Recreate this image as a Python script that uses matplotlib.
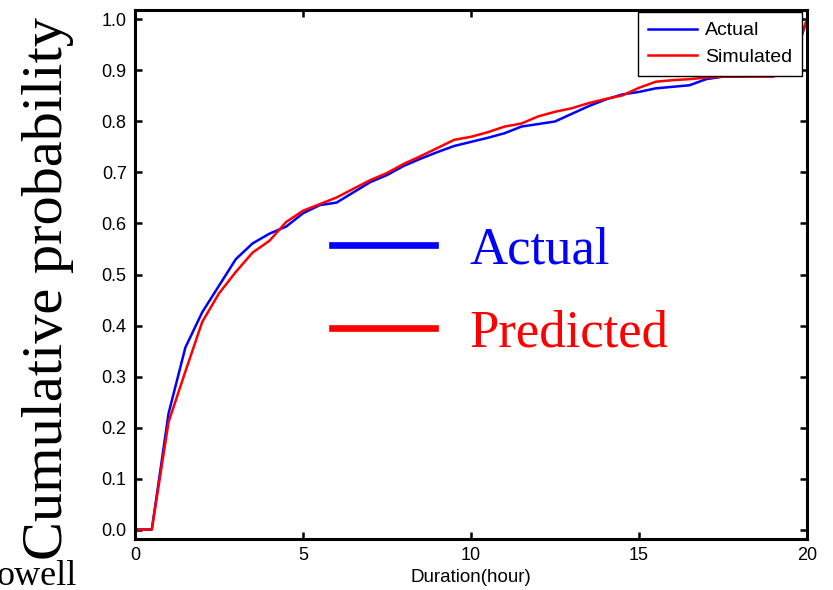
import matplotlib
matplotlib.use("Agg")
import matplotlib.pyplot as plt
from matplotlib.lines import Line2D

# Duration grid (hours) and the two cumulative distributions
duration = [0.0, 0.5, 1.0, 1.5, 2.0, 2.5, 3.0, 3.5, 4.0, 4.5, 5.0, 5.5, 6.0, 6.5,
            7.0, 7.5, 8.0, 8.5, 9.0, 9.5, 10.0, 10.5, 11.0, 11.5, 12.0, 12.5,
            13.0, 13.5, 14.0, 14.5, 15.0, 15.5, 16.0, 16.5, 17.0, 17.5, 18.0,
            18.5, 19.0, 19.5, 20.0]

actual = [0.0, 0.0, 0.228, 0.357, 0.426, 0.478, 0.530, 0.561, 0.580, 0.594,
          0.620, 0.636, 0.641, 0.661, 0.681, 0.695, 0.713, 0.727, 0.740, 0.752,
          0.760, 0.768, 0.777, 0.790, 0.795, 0.800, 0.815, 0.830, 0.843, 0.853,
          0.858, 0.865, 0.868, 0.871, 0.883, 0.888, 0.888, 0.890, 0.893, 0.900,
          1.0]

simulated = [0.0, 0.0, 0.211, 0.310, 0.407, 0.463, 0.505, 0.543, 0.566, 0.603,
             0.625, 0.638, 0.651, 0.668, 0.685, 0.699, 0.717, 0.732, 0.748, 0.764,
             0.770, 0.779, 0.790, 0.796, 0.810, 0.819, 0.826, 0.836, 0.844, 0.851,
             0.866, 0.878, 0.881, 0.883, 0.886, 0.888, 0.888, 0.888, 0.888, 0.905,
             1.0]

x_ticks = [0, 5, 10, 15, 20]
y_ticks = [0.0, 0.1, 0.2, 0.3, 0.4, 0.5, 0.6, 0.7, 0.8, 0.9, 1.0]

SANS = "Liberation Sans"
SERIF = "Liberation Serif"

fig = plt.figure(figsize=(8.33, 5.90), dpi=100)
ax = fig.add_axes([135 / 833, 51 / 590, 672 / 833, 529 / 590])

ax.plot(duration, actual, color="#0000ff", lw=1.8, label="Actual")
ax.plot(duration, simulated, color="#ff0000", lw=1.8, label="Simulated")

ax.set_xlim(0, 20)
ax.set_ylim(-0.0186, 1.0186)
ax.set_xticks(x_ticks)
ax.set_xticklabels([str(t) for t in x_ticks])
ax.set_yticks(y_ticks)
ax.set_yticklabels([f"{t:.1f}" for t in y_ticks])

for s in ax.spines.values():
    s.set_linewidth(2.2)
ax.tick_params(direction="in", length=5, width=1.8, top=True, right=True,
               labelsize=13, pad=6)
for lab in ax.get_xticklabels() + ax.get_yticklabels():
    lab.set_fontfamily(SANS)

ax.set_xlabel("Duration(hour)", fontsize=13.5, fontfamily=SANS, labelpad=3)

# Series legend in the top-right corner
leg = ax.legend(loc="upper right", bbox_to_anchor=(802 / 833, 578 / 590),
                bbox_transform=fig.transFigure, borderaxespad=0,
                prop={"family": SANS, "size": 14},
                fancybox=False, framealpha=1, edgecolor="black",
                borderpad=0.5, labelspacing=0.48,
                handlelength=2.55, handletextpad=0.4)
leg.get_frame().set_linewidth(1.0)
ax.add_artist(leg)

# Large annotation key inside the plot
key_handles = [Line2D([], [], color="#0000ff", lw=4.8),
               Line2D([], [], color="#ff0000", lw=4.8)]
key = ax.legend(key_handles, ["Actual", "Predicted"],
                loc="center left", bbox_to_anchor=(332 / 833, 298 / 590),
                bbox_transform=fig.transFigure, frameon=False,
                prop={"family": SERIF, "size": 38}, labelcolor="linecolor",
                borderpad=0, borderaxespad=0, handlelength=1.95,
                handletextpad=0.66, labelspacing=0.66)

fig.text(48 / 833, 301 / 590, "Cumulative probability", rotation=90,
         ha="center", va="center", fontsize=42, fontfamily=SERIF)
fig.text(-3 / 833, 5 / 590, "owell", ha="left", va="baseline",
         fontsize=26, fontfamily=SERIF)

fig.savefig("out.png", dpi=100)
